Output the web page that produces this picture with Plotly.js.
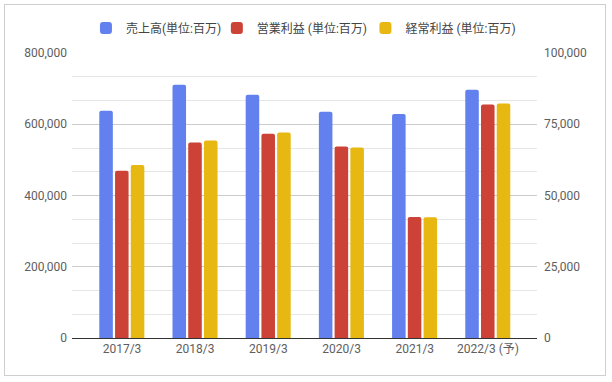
<!DOCTYPE html>
<html>
<head>
<meta charset="utf-8">
<script src="https://cdn.plot.ly/plotly-3.0.1.min.js"></script>
<style>
  html, body { margin: 0; padding: 0; background: #fff; }
  #wrap { position: relative; width: 612px; height: 382px; }
  #chart { position: absolute; left: 0; top: 0; width: 612px; height: 382px; }
  #frame { position: absolute; left: 4px; top: 4px; width: 600px; height: 370px;
           border: 1px solid #cfcfcf; pointer-events: none; }
</style>
</head>
<body>
<div id="wrap">
  <div id="chart"></div>
  <div id="frame"></div>
</div>
<script>
const categories = ["2017/3", "2018/3", "2019/3", "2020/3", "2021/3", "2022/3 (予)"];
const seriesNames = ["売上高(単位:百万)", "営業利益 (単位:百万)", "経常利益 (単位:百万)"];
const sales = [638000, 711000, 683000, 635000, 629000, 697000];
const operatingProfit = [58700, 68600, 71700, 67200, 42500, 81900];
const ordinaryProfit = [60700, 69300, 72100, 66800, 42400, 82300];
const leftTicks = [0, 200000, 400000, 600000, 800000];
const rightTicks = [0, 25000, 50000, 75000, 100000];

const colors = ["#6381EE", "#CC4237", "#E7B712"];
const W = 0.185;
const offsets = [-0.31, -0.095, 0.12];
const seriesData = [sales, operatingProfit, ordinaryProfit];
const seriesAxes = ["y", "y2", "y2"];
const legendIds = ["legend", "legend2", "legend3"];

const traces = seriesData.map((vals, i) => ({
  type: "bar", name: seriesNames[i], x: categories, y: vals, yaxis: seriesAxes[i],
  marker: { color: colors[i], cornerradius: 2 }, width: W, offset: offsets[i],
  legend: legendIds[i], showlegend: true
}));

const fontFam = "Roboto, 'Noto Sans CJK JP', sans-serif";
const legBase = {
  orientation: "h", xanchor: "left", y: 1.088, yanchor: "middle",
  font: { family: fontFam, size: 12, color: "#444" },
  bgcolor: "rgba(0,0,0,0)", itemclick: false, visible: true
};
const legX = [0.030, 0.3115, 0.631];

const layout = {
  width: 612, height: 382,
  margin: { l: 72, r: 75, t: 53, b: 44, pad: 0 },
  paper_bgcolor: "rgba(0,0,0,0)",
  plot_bgcolor: "rgba(0,0,0,0)",
  font: { family: fontFam, size: 12, color: "#5e5e5e" },
  showlegend: true,
  legend: Object.assign({}, legBase, { x: legX[0] }),
  legend2: Object.assign({}, legBase, { x: legX[1] }),
  legend3: Object.assign({}, legBase, { x: legX[2] }),
  barmode: "overlay",
  xaxis: {
    type: "category", range: [-0.683, 5.67],
    showgrid: false, zeroline: false,
    showline: true, linecolor: "#333", linewidth: 1,
    ticks: "", tickfont: { size: 12, color: "#5e5e5e" }
  },
  yaxis: {
    range: [0, 800000], tickvals: leftTicks, tickformat: ",",
    showgrid: true, gridcolor: "#cccccc", gridwidth: 1,
    minor: { dtick: 200000 / 3, showgrid: true, gridcolor: "#e6e6e6", gridwidth: 1 },
    zeroline: false, showline: false, ticks: "",
    ticklabelstandoff: 4,
    tickfont: { size: 12, color: "#5e5e5e" }
  },
  yaxis2: {
    range: [0, 100000], tickvals: rightTicks, tickformat: ",",
    overlaying: "y", side: "right",
    showgrid: false, zeroline: false, showline: false, ticks: "",
    ticklabelstandoff: 6,
    tickfont: { size: 12, color: "#5e5e5e" }
  }
};

Plotly.newPlot("chart", traces, layout, { staticPlot: true, displayModeBar: false });
</script>
</body>
</html>
